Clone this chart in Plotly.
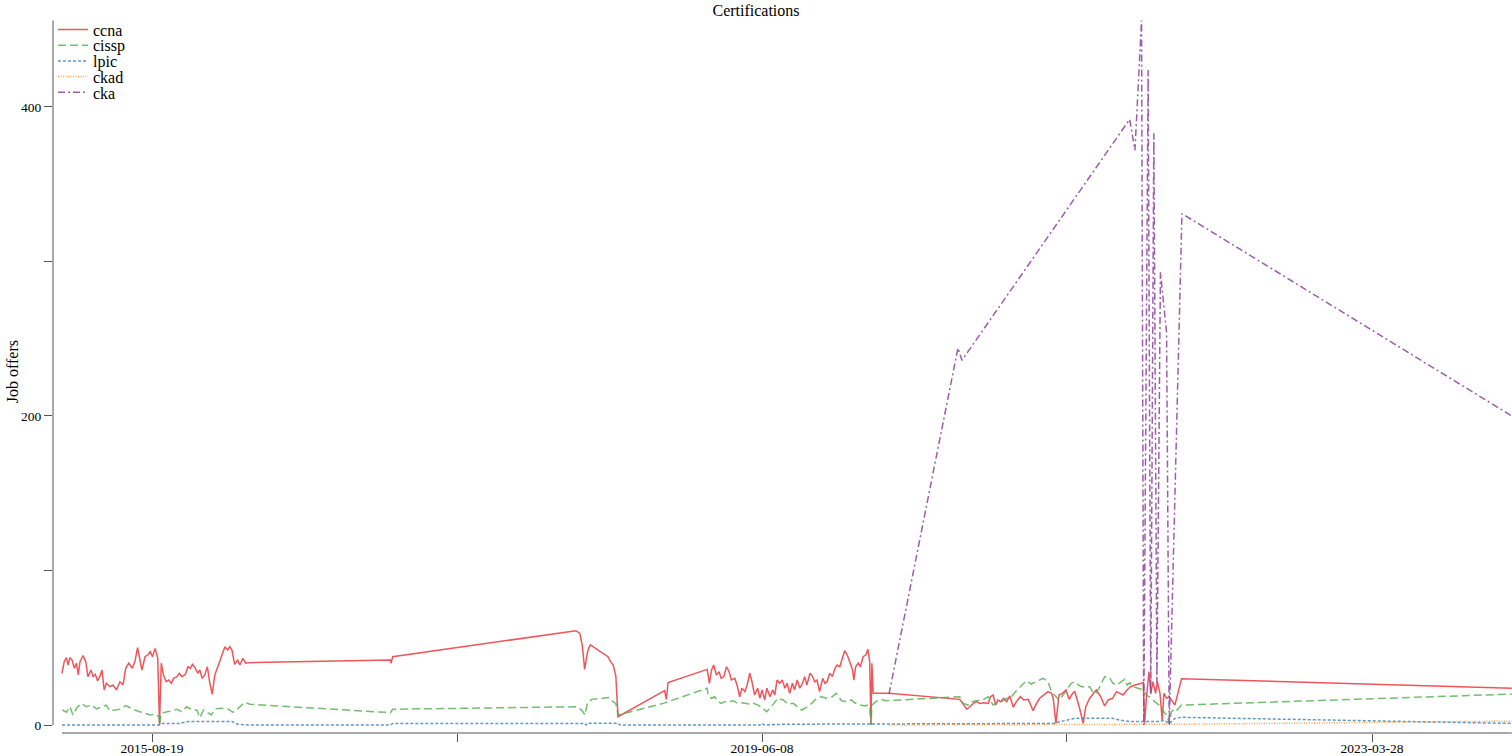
import plotly.graph_objects as go

# ---------------- data ----------------
ccna_dates = [
    "2015-01-26", "2015-01-31", "2015-02-05", "2015-02-09", "2015-02-13", "2015-02-18", "2015-02-23", "2015-02-28",
    "2015-03-04", "2015-03-08", "2015-03-15", "2015-03-21", "2015-03-26", "2015-04-02", "2015-04-07", "2015-04-12",
    "2015-04-17", "2015-04-22", "2015-04-27", "2015-05-02", "2015-05-07", "2015-05-15", "2015-05-22", "2015-05-30",
    "2015-06-07", "2015-06-14", "2015-06-20", "2015-06-27", "2015-07-05", "2015-07-11", "2015-07-17", "2015-07-22",
    "2015-07-27", "2015-08-03", "2015-08-09", "2015-08-15", "2015-08-20", "2015-08-26", "2015-09-01", "2015-09-05",
    "2015-09-09", "2015-09-14", "2015-09-20", "2015-09-26", "2015-10-02", "2015-10-07", "2015-10-15", "2015-10-20",
    "2015-10-26", "2015-11-03", "2015-11-09", "2015-11-14", "2015-11-19", "2015-11-25", "2015-12-01", "2015-12-06",
    "2015-12-11", "2015-12-17", "2015-12-23", "2015-12-28", "2016-01-03", "2016-01-09", "2016-02-01", "2016-02-07",
    "2016-02-12", "2016-02-17", "2016-02-23", "2016-03-01", "2016-03-06", "2016-03-13", "2016-03-19", "2016-03-25",
    "2017-02-12", "2017-02-13", "2017-02-17",
    "2018-04-10", "2018-04-19", "2018-04-25", "2018-04-30", "2018-05-06", "2018-05-09", "2018-05-13", "2018-06-22",
    "2018-06-28", "2018-07-04", "2018-07-10", "2018-07-15", "2018-10-29", "2018-11-02", "2018-11-06",
    "2019-02-03", "2019-02-08", "2019-02-13", "2019-02-18", "2019-02-24", "2019-03-02", "2019-03-07", "2019-03-13",
    "2019-03-19", "2019-03-25", "2019-03-30", "2019-04-07", "2019-04-13", "2019-04-18", "2019-04-23", "2019-04-30",
    "2019-05-05", "2019-05-11", "2019-05-16", "2019-05-22", "2019-05-29", "2019-06-03", "2019-06-08", "2019-06-14",
    "2019-06-19", "2019-06-26", "2019-07-02", "2019-07-07", "2019-07-12", "2019-07-18", "2019-07-24", "2019-07-30",
    "2019-08-04", "2019-08-10", "2019-08-16", "2019-08-21", "2019-08-27", "2019-09-02", "2019-09-08", "2019-09-13",
    "2019-09-18", "2019-09-25", "2019-10-01", "2019-10-06", "2019-10-11", "2019-10-17", "2019-10-24", "2019-10-29",
    "2019-11-03", "2019-11-09", "2019-11-15", "2019-11-21", "2019-11-26", "2019-12-02", "2019-12-08", "2019-12-13",
    "2019-12-19", "2019-12-25", "2019-12-31", "2020-01-03", "2020-01-07", "2020-01-13", "2020-01-18", "2020-01-24",
    "2020-01-30", "2020-02-04", "2020-02-08", "2020-02-11", "2020-02-13", "2020-02-16",
    "2020-03-23", "2020-08-31", "2020-09-16", "2020-09-23", "2020-10-01", "2020-10-08", "2020-10-16", "2020-10-25",
    "2020-11-04", "2020-11-09", "2020-11-15", "2020-11-21", "2020-11-26", "2020-12-02", "2020-12-09", "2020-12-16",
    "2020-12-23", "2020-12-31", "2021-01-07", "2021-01-16", "2021-01-24", "2021-02-03", "2021-02-14", "2021-02-22",
    "2021-03-01", "2021-03-13", "2021-03-20", "2021-03-28", "2021-04-01", "2021-04-07", "2021-04-14", "2021-04-22",
    "2021-04-30", "2021-05-07", "2021-05-15", "2021-05-20", "2021-05-25", "2021-05-31", "2021-06-08", "2021-06-14",
    "2021-06-23", "2021-07-01", "2021-07-08", "2021-07-18", "2021-07-27", "2021-08-04", "2021-08-14", "2021-08-23",
    "2021-08-30", "2021-09-07", "2021-09-16", "2021-09-24", "2021-10-04", "2021-10-15", "2021-10-23", "2021-10-26",
    "2021-10-30", "2021-11-05", "2021-11-09", "2021-11-14", "2021-11-20", "2021-11-24", "2021-11-30", "2021-12-05",
    "2021-12-09", "2021-12-15", "2021-12-21", "2021-12-26", "2022-01-03", "2022-01-18", "2024-02-09",
]
ccna_vals = [
    33.5, 41, 43.6, 38.8, 43.6, 42, 36.7, 40,
    32.4, 41, 44.9, 41, 31.3, 35.6, 31.3, 32.8,
    28.5, 31.3, 35.6, 22.7, 27, 24.8, 25.9, 22.7,
    28, 25.9, 36.7, 40, 36.7, 41, 50, 42,
    35.6, 44.2, 45.3, 47.4, 44.2, 49.6, 43.2, 0,
    40, 32.4, 28, 29.1, 27, 30.2, 31.3, 33.5,
    31.3, 32.8, 37.7, 36.7, 39.3, 37.1, 33.5, 35.6,
    30.2, 32.4, 37.7, 28, 19.9, 32.4, 50.7, 48.5,
    50.7, 48.5, 39.3, 42, 38.8, 43.2, 40, 40.3,
    42, 40, 44.2,
    61, 59.3, 50.7, 36, 46.4, 49.6, 51.8, 44.2,
    41, 38.8, 31.7, 5.4, 22.2, 16.6, 27.4,
    36, 27, 35.6, 38.8, 32.4, 34.5, 30.2, 31.3,
    37.7, 34.5, 29.1, 30.2, 24.8, 18.3, 23.8, 21.6,
    25.9, 33.5, 28, 19.4, 23.8, 17.3, 22.7, 16.2,
    23.8, 18.3, 22.7, 19.4, 29.1, 27, 29.1, 23.8,
    27, 20.5, 27, 22.7, 29.1, 23.8, 27, 31.3,
    25.9, 33.5, 31.3, 28, 29.1, 21.6, 30.2, 27,
    28, 33.5, 31.3, 36.7, 38.8, 37.7, 44.2, 48.1,
    45.3, 40, 35.6, 29.1, 37.7, 40, 37.7, 44.2,
    45.3, 49, 41, 0, 40, 20.5,
    20.5, 16.6, 10.2, 11.8, 14, 15.1, 14, 14.4,
    14, 18.3, 19.4, 12.9, 16.2, 15.1, 17.3, 15.1,
    18.8, 11.5, 15.1, 18.3, 16.2, 16.6, 9.3, 14,
    17.3, 20, 21.6, 20.5, 17, 1, 19.4, 20.5,
    22.7, 16.6, 20.5, 21.6, 17.3, 10.8, 1, 11.8,
    17.3, 20.5, 22.7, 18.3, 12.3, 16.2, 17.3, 21.6,
    20.5, 19.4, 22.7, 24.8, 25.9, 27, 27.4, 1,
    17.3, 34.5, 20.5, 28, 20.5, 28, 20.5, 3.2,
    20.5, 17.3, 18.3, 16.2, 12.9, 30, 23.8,
]

cissp_dates = [
    "2015-01-27", "2015-02-05", "2015-02-13", "2015-02-20", "2015-02-28", "2015-03-11", "2015-03-23", "2015-04-03",
    "2015-04-15", "2015-04-26", "2015-05-07", "2015-05-15", "2015-05-30", "2015-06-10", "2015-06-20", "2015-06-29",
    "2015-07-11", "2015-07-22", "2015-08-03", "2015-08-15", "2015-08-26", "2015-09-04", "2015-09-05", "2015-09-09",
    "2015-09-22", "2015-10-03", "2015-10-15", "2015-10-26", "2015-11-06", "2015-11-18", "2015-11-29", "2015-12-06",
    "2015-12-14", "2015-12-23", "2016-01-01", "2016-01-09", "2016-01-24", "2016-02-08", "2016-02-19", "2016-03-02",
    "2016-03-17", "2016-03-29",
    "2017-02-12", "2017-02-17",
    "2018-04-12", "2018-04-23", "2018-05-01", "2018-05-06", "2018-05-16", "2018-06-11", "2018-06-26", "2018-07-03",
    "2018-07-10", "2018-07-15", "2018-10-26",
    "2019-02-03", "2019-02-05", "2019-02-13", "2019-02-20", "2019-02-28", "2019-03-07", "2019-03-15", "2019-03-25",
    "2019-04-03", "2019-04-14", "2019-04-26", "2019-05-07", "2019-05-19", "2019-05-30", "2019-06-10", "2019-06-18",
    "2019-06-26", "2019-07-07", "2019-07-14", "2019-07-26", "2019-08-06", "2019-08-18", "2019-08-29", "2019-09-06",
    "2019-09-17", "2019-09-29", "2019-10-10", "2019-10-21", "2019-11-02", "2019-11-13", "2019-11-24", "2019-12-06",
    "2019-12-17", "2019-12-29", "2020-01-05", "2020-01-17", "2020-01-28", "2020-02-04", "2020-02-08", "2020-02-11",
    "2020-02-13", "2020-02-22", "2020-03-04", "2020-03-16",
    "2020-08-31", "2020-09-08", "2020-09-19", "2020-09-27", "2020-10-08", "2020-10-23", "2020-11-04", "2020-11-15",
    "2020-11-24", "2020-12-04", "2020-12-16", "2020-12-27", "2021-01-07", "2021-01-19", "2021-01-30", "2021-02-10",
    "2021-02-22", "2021-03-09", "2021-03-20", "2021-03-28", "2021-04-04", "2021-04-14", "2021-04-22", "2021-05-01",
    "2021-05-12", "2021-05-20", "2021-05-28", "2021-06-04", "2021-06-23", "2021-07-01", "2021-07-08", "2021-07-16",
    "2021-07-27", "2021-08-08", "2021-08-15", "2021-08-24", "2021-09-03", "2021-09-11", "2021-09-16", "2021-09-22",
    "2021-09-30", "2021-10-11", "2021-10-23", "2021-10-30", "2021-11-11", "2021-11-18", "2021-11-28", "2021-12-06",
    "2021-12-11", "2021-12-16", "2021-12-21", "2021-12-26", "2022-01-03", "2022-01-08", "2022-01-18", "2024-02-09",
]
cissp_vals = [
    9.7, 8.2, 11.8, 6.5, 10.8, 14, 11.8, 12.9,
    10.4, 11.8, 12.9, 9.1, 9.7, 10.4, 12.5, 11.2,
    9.7, 8.6, 7.6, 6.5, 6.9, 5.4, 0, 7.6,
    8.6, 9.1, 10.2, 8.6, 11.8, 9.7, 9.7, 4.7,
    9.7, 8.2, 6.5, 10.4, 10.8, 10.4, 8.2, 10.8,
    14.7, 13.4,
    8, 10.2,
    11.8, 9.7, 6.5, 14, 16.6, 17.3, 17.9, 15.1,
    14, 6.5, 14,
    23.8, 19.4, 17.3, 18.3, 15.1, 14, 15.1, 15.1,
    15.7, 14, 14.4, 13.6, 14, 12.9, 10.8, 8.6,
    10.8, 15.1, 17.3, 16.2, 13.6, 14, 11.8, 9.7,
    11.4, 14, 17.3, 18.3, 17.3, 17.9, 20.5, 15.7,
    15.1, 16.2, 14.4, 12.9, 12.3, 12.9, 11.4, 0,
    12.9, 15.1, 16.6, 15.7,
    18.3, 14, 12.9, 15.1, 15.7, 16.2, 18.3, 12.9,
    14.4, 15.1, 17.3, 18.3, 22.2, 25.9, 28.7, 26.5,
    28, 30.2, 28, 21.6, 19.4, 16.2, 18.8, 22.7,
    27, 28, 25.9, 24.8, 24.8, 20.5, 20.8, 24.8,
    31.3, 30.2, 27, 25.9, 28, 29.6, 25.9, 27.4,
    24.8, 23.8, 22.7, 19.4, 17.3, 15.1, 12.9, 9.7,
    7.6, 6.5, 1, 8.6, 10.8, 9.7, 12.9, 20,
]

lpic_dates = [
    "2015-01-26", "2015-09-05", "2015-09-12", "2015-10-20", "2015-11-09", "2016-02-17", "2016-03-01", "2016-03-25",
    "2017-02-12", "2017-02-17", "2018-04-30", "2018-05-03", "2018-05-06", "2018-07-15", "2018-07-20", "2019-06-03",
    "2019-06-08", "2019-06-13", "2019-08-01", "2021-04-01", "2021-04-14", "2021-04-30", "2021-05-20", "2021-08-14",
    "2021-08-30", "2021-09-24", "2021-11-30", "2021-12-09", "2021-12-21", "2022-01-03", "2022-01-18", "2024-02-09",
]
lpic_vals = [
    0, 0, 1, 1, 2.2, 2.2, 0.5, 0,
    0, 1, 1, 0, 1.2, 1.2, 0, 0,
    1, 0, 0.5, 1, 2, 3.2, 4.3, 4.3,
    3.2, 2.2, 2.2, 3.2, 1, 4.3, 5, 1,
]

ckad_dates = ["2020-03-23", "2021-06-01", "2021-12-01", "2022-01-18", "2024-02-09"]
ckad_vals = [0, 0.2, 0.3, 0.5, 2.5]

cka_dates = [
    "2020-03-23", "2020-08-27", "2020-09-05", "2021-09-22", "2021-10-04", "2021-10-19", "2021-10-24", "2021-11-03",
    "2021-11-09", "2021-11-16", "2021-11-23", "2021-12-01", "2021-12-15", "2021-12-21", "2022-01-19", "2024-02-09",
]
cka_vals = [20, 244, 236, 392, 372, 456, 0, 424, 20, 383, 27, 293, 254, 0, 331, 200]

x_tick_vals = ["2015-08-19", "2017-07-14", "2019-06-08", "2021-05-02", "2023-03-28"]
x_tick_text = ["2015-08-19", "", "2019-06-08", "", "2023-03-28"]
y_tick_vals = [0, 100, 200, 300, 400]
y_tick_text = ["0", "", "200", "", "400"]

# ---------------- figure ----------------
FONT = "Liberation Serif, Times New Roman, serif"
series = [
    ("ccna", ccna_dates, ccna_vals, "rgba(232,30,36,0.75)", "solid"),
    ("cissp", cissp_dates, cissp_vals, "rgba(77,175,74,0.8)", "8px,4px"),
    ("lpic", lpic_dates, lpic_vals, "rgba(55,126,184,0.8)", "3px,2px"),
    ("ckad", ckad_dates, ckad_vals, "rgba(255,127,0,0.7)", "1px,1.5px"),
    ("cka", cka_dates, cka_vals, "rgba(145,70,160,0.88)", "7px,3px,2px,3px"),
]

# legend item centres (paper y), one single-item legend per series
legend_y = [0.9865, 0.9645, 0.9425, 0.9205, 0.8985]

fig = go.Figure()
for i, (name, xs, ys, col, dash) in enumerate(series):
    fig.add_trace(go.Scatter(
        x=xs, y=ys, mode="lines", name=name,
        legend="legend" if i == 0 else f"legend{i + 1}",
        line=dict(color=col, width=1.5, dash=dash),
    ))

all_dates = ccna_dates + cissp_dates + lpic_dates + ckad_dates + cka_dates
all_vals = ccna_vals + cissp_vals + lpic_vals + ckad_vals + cka_vals
axis_col = "#555555"

# range-frame axis lines (span data extent only)
fig.add_shape(type="line", xref="x", yref="paper", x0=min(all_dates), x1=max(all_dates), y0=0, y1=0,
              line=dict(color=axis_col, width=1))
fig.add_shape(type="line", xref="paper", yref="y", x0=0, x1=0, y0=0, y1=max(all_vals),
              line=dict(color=axis_col, width=1))

legend_common = dict(x=0.0, xanchor="left", yanchor="middle", bgcolor="rgba(0,0,0,0)",
                     font=dict(family=FONT, size=16, color="black"), itemwidth=30,
                     borderwidth=0)
layout_legends = {}
for i, ly in enumerate(legend_y):
    key = "legend" if i == 0 else f"legend{i + 1}"
    layout_legends[key] = dict(legend_common, y=ly)

fig.update_layout(
    width=1512, height=756,
    margin=dict(l=53, r=0, t=20, b=23, autoexpand=False),
    paper_bgcolor="white", plot_bgcolor="white",
    font=dict(family=FONT, color="black", size=13.5),
    title=dict(text="Certifications", x=0.5, xref="container", y=1 - 10 / 756, yanchor="middle",
               font=dict(family=FONT, size=16, color="black")),
    showlegend=True,
    xaxis=dict(type="date", range=["2015-01-05 12:00", "2024-02-09 12:00"],
               tickvals=x_tick_vals, ticktext=x_tick_text, automargin=False,
               showgrid=False, zeroline=False, showline=False,
               ticks="outside", ticklen=8, tickcolor=axis_col, tickwidth=1,
               ticklabelstandoff=-5,
               tickfont=dict(family=FONT, size=13.5, color="black")),
    yaxis=dict(range=[-5.18, 456.3], tickvals=y_tick_vals, ticktext=y_tick_text, automargin=False,
               showgrid=False, zeroline=False, showline=False,
               ticks="outside", ticklen=8, tickcolor=axis_col, tickwidth=1,
               tickfont=dict(family=FONT, size=13.5, color="black")),
    annotations=[dict(text="Job offers", xref="paper", yref="paper", x=0, y=0.506,
                      xanchor="center", yanchor="middle",
                      xshift=-41, textangle=-90, showarrow=False,
                      font=dict(family=FONT, size=16, color="black"))],
    **layout_legends,
)

fig.write_html("out.html", config={"displayModeBar": False},
               post_script="document.body.style.margin='0px';document.body.style.overflow='hidden';")
